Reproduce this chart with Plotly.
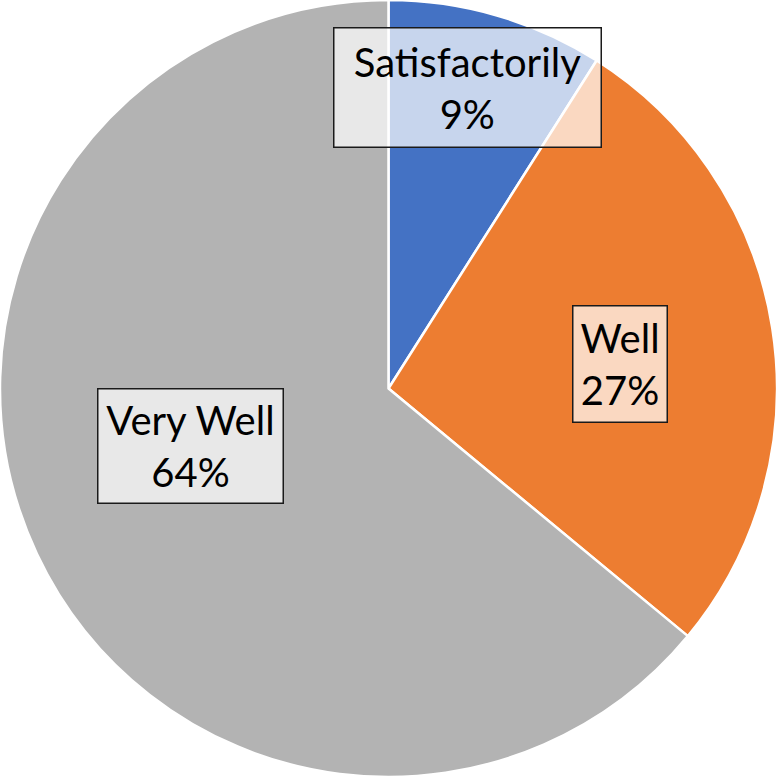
import plotly.graph_objects as go

# data
labels = ["Satisfactorily", "Well", "Very Well"]
values = [9, 27, 64]
colors = ["#4472C4", "#ED7D31", "#B3B3B3"]

# label box placement (pixel centre and box size)
box_centers = [(467, 87), (619.5, 364), (190, 446)]
box_sizes = [(266, 118), (93, 115), (184, 113)]

W = H = 777

fig = go.Figure()

fig.add_trace(
    go.Pie(
        labels=labels,
        values=values,
        sort=False,
        direction="clockwise",
        rotation=0,
        textinfo="none",
        hoverinfo="label+percent",
        marker=dict(colors=colors, line=dict(color="white", width=2.5)),
        domain=dict(x=[0, 1], y=[0, 1]),
        showlegend=False,
    )
)

total = sum(values)
for lab, val, (cx, cy), (bw, bh) in zip(labels, values, box_centers, box_sizes):
    pct = round(100 * val / total)
    fig.add_annotation(
        x=cx / W,
        y=1 - cy / H,
        xref="paper",
        yref="paper",
        xanchor="center",
        yanchor="middle",
        text=f"{lab}<br>{pct}%",
        showarrow=False,
        font=dict(family="Lato, Liberation Sans, sans-serif", size=40, color="#000000"),
        bgcolor="rgba(255,255,255,0.7)",
        bordercolor="#1a1a1a",
        borderwidth=1.5,
        borderpad=0,
        width=bw,
        height=bh,
        align="center",
        valign="middle",
    )

fig.update_layout(
    width=W,
    height=H,
    margin=dict(l=0, r=0, t=0, b=0),
    paper_bgcolor="white",
    plot_bgcolor="white",
)

# page body has a default 8px margin, drop it so the chart fills the window
fig.write_html(
    "out.html",
    config={"displayModeBar": False},
    post_script="document.body.style.margin='0';",
)
